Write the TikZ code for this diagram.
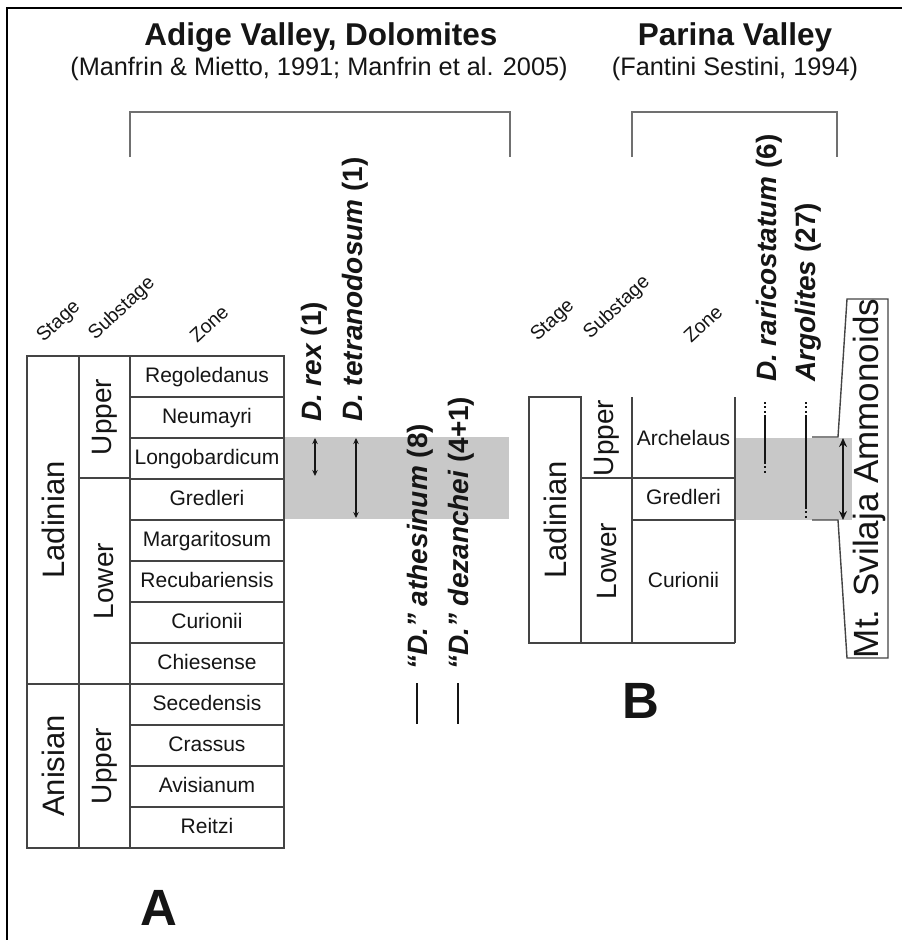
\documentclass[tikz,border=0pt]{standalone}
\usepackage{fontspec}
\setmainfont{Liberation Sans}
\usetikzlibrary{arrows.meta}
\definecolor{band}{HTML}{C8C8C8}
\definecolor{ln}{HTML}{444444}
\definecolor{brk}{HTML}{707070}
\definecolor{ink}{HTML}{151515}
\newcommand{\fsz}[1]{\fontsize{#1}{#1}\selectfont}
\begin{document}
\begin{tikzpicture}[x=1pt,y=-1pt,
  tbl/.style={draw=ln,line width=1.4pt},
  zcell/.style={draw=ln,line width=1.4pt,minimum width=154pt,minimum height=41pt,inner sep=0pt,text height=15pt,text depth=4pt,font=\fsz{21},text=ink},
  ztxt/.style={inner sep=0pt,text height=15pt,text depth=4pt,font=\fsz{21},text=ink},
  stg/.style={rotate=90,font=\fsz{31},text=ink,inner sep=0pt},
  subs/.style={rotate=90,font=\fsz{28},text=ink,inner sep=0pt},
  hdr/.style={rotate=43,font=\fsz{19.5},text=ink,inner sep=0pt},
  taxon/.style={rotate=90,anchor=west,font=\fsz{28}\bfseries,text=ink,inner sep=0pt},
  brkt/.style={draw=brk,line width=1.8pt},
  rng/.style={draw=ink,line width=1.6pt,{Stealth[length=6pt,width=5.5pt]}-{Stealth[length=6pt,width=5.5pt]}},
  rngbig/.style={draw=ink,line width=2.6pt,{Stealth[length=9pt,width=8pt]}-{Stealth[length=9pt,width=8pt]}},
  bar/.style={draw=ink,line width=2.4pt},
  dotseg/.style={draw=ink,line width=2pt,dash pattern=on 1.8pt off 2.6pt},
  solseg/.style={draw=ink,line width=2pt},
  biglbl/.style={font=\fsz{51}\bfseries,text=ink,inner sep=0pt},
]
\useasboundingbox (0,0) rectangle (902,940);
\fill[white] (0,0) rectangle (902,940);
% frame
\draw[line width=2.7pt,black] (7,942) -- (7,8) -- (904,8);

% titles
\node[anchor=base,font=\fsz{31.5}\bfseries,text=ink] (tA) at (321,45) {Adige Valley, Dolomites};
\node[anchor=base,font=\fsz{25.3},text=ink] (sA) at (319,75) {(Manfrin \& Mietto, 1991; Manfrin et al. 2005)};
\node[anchor=base,font=\fsz{31.5}\bfseries,text=ink] (tB) at (735,45) {Parina Valley};
\node[anchor=base,font=\fsz{25.3},text=ink] (sB) at (735,75) {(Fantini Sestini, 1994)};

% brackets
\draw[brkt] (130,157) -- (130,112) -- (510,112) -- (510,157);
\draw[brkt] (632,157) -- (632,112) -- (837,112) -- (837,157);

% gray bands
\fill[band] (285,437) rectangle (509,519);
\fill[band] (736,438) rectangle (852,520);

% ===== Table A =====
\node[hdr] (hA1) at (59,322) {Stage};
\node[hdr] (hA2) at (122,309) {Substage};
\node[hdr] (hA3) at (209,324) {Zone};

\draw[tbl] (27,356) rectangle (79,684);
\draw[tbl] (27,684) rectangle (79,848);
\draw[tbl] (79,356) rectangle (130,478);
\draw[tbl] (79,478) rectangle (130,684);
\draw[tbl] (79,684) rectangle (130,848);
\node[stg] (lad) at (53,520) {Ladinian};
\node[stg] (ani) at (53,766) {Anisian};
\node[subs] (up1) at (104.5,417) {Upper};
\node[subs] (lo1) at (104.5,581) {Lower};
\node[subs] (up2) at (104.5,766) {Upper};

\foreach \nm [count=\i from 0] in {Regoledanus,Neumayri,Longobardicum,Gredleri,Margaritosum,Recubariensis,Curionii,Chiesense,Secedensis,Crassus,Avisianum,Reitzi}
  \node[zcell] (zA\i) at (207,376.5+41*\i) {\nm};

% ranges A
\coordinate (r1a) at (315,438); \coordinate (r1b) at (315,476);
\coordinate (r2a) at (356,438); \coordinate (r2b) at (356,518);
\draw[rng] (r1a) -- (r1b);
\draw[rng] (r2a) -- (r2b);
\coordinate (b1a) at (417,683); \coordinate (b1b) at (417,724);
\coordinate (b2a) at (458,683); \coordinate (b2b) at (458,724);
\draw[bar] (b1a) -- (b1b);
\draw[bar] (b2a) -- (b2b);

\node[taxon] (tx1) at (314,422) {{\itshape D. rex} (1)};
\node[taxon] (tx2) at (355,422) {{\itshape D. tetranodosum} (1)};
\node[taxon] (tx3) at (420,670) {{\itshape “D.” athesinum} (8)};
\node[taxon] (tx4) at (461,670) {{\itshape “D.” dezanchei} (4+1)};

\node[biglbl] (lA) at (158.5,908) {A};

% ===== Table B =====
\node[hdr] (hB1) at (553,321) {Stage};
\node[hdr] (hB2) at (617,308) {Substage};
\node[hdr] (hB3) at (703,324) {Zone};

\draw[tbl] (529,397) rectangle (581,643);
\draw[tbl] (632,397) -- (632,643);
\draw[tbl] (735,397) -- (735,643);
\draw[tbl] (581,643) -- (735,643);
\draw[tbl] (581,478) -- (735,478);
\draw[tbl] (632,520) -- (735,520);
\node[stg] (ladB) at (555,520) {Ladinian};
\node[subs] (upB) at (606.5,438) {Upper};
\node[subs] (loB) at (606.5,561) {Lower};
\node[ztxt] (zB1) at (683.5,440) {Archelaus};
\node[ztxt] (zB2) at (683.5,499) {Gredleri};
\node[ztxt] (zB3) at (683.5,582) {Curionii};

% occurrence lines B
\coordinate (d1a) at (765,402); \coordinate (d1b) at (765,417);
\coordinate (d1c) at (765,462); \coordinate (d1d) at (765,475);
\draw[dotseg] (d1a) -- (d1b);
\draw[solseg] (d1b) -- (d1c);
\draw[dotseg] (d1c) -- (d1d);
\coordinate (d2a) at (806,402); \coordinate (d2b) at (806,417);
\coordinate (d2c) at (806,507); \coordinate (d2d) at (806,520);
\draw[dotseg] (d2a) -- (d2b);
\draw[solseg] (d2b) -- (d2c);
\draw[dotseg] (d2c) -- (d2d);

\node[taxon] (tx5) at (769,382) {{\itshape D. raricostatum} (6)};
\node[taxon] (tx6) at (808,382) {{\itshape Argolites} (27)};

% Mt. Svilaja callout
\draw[draw=ln,line width=1.4pt] (812,437) -- (838,437) -- (847,299) -- (888,299) -- (888,658) -- (847,658) -- (838,520) -- (812,520);
\coordinate (m1) at (843,438); \coordinate (m2) at (843,520);
\draw[rngbig] (m1) -- (m2);
\node[rotate=90,font=\fsz{35},text=ink,inner sep=0pt] (svil) at (869,478.5) {Mt. Svilaja Ammonoids};

\node[biglbl] (lB) at (641,701) {B};
\end{tikzpicture}
\end{document}
